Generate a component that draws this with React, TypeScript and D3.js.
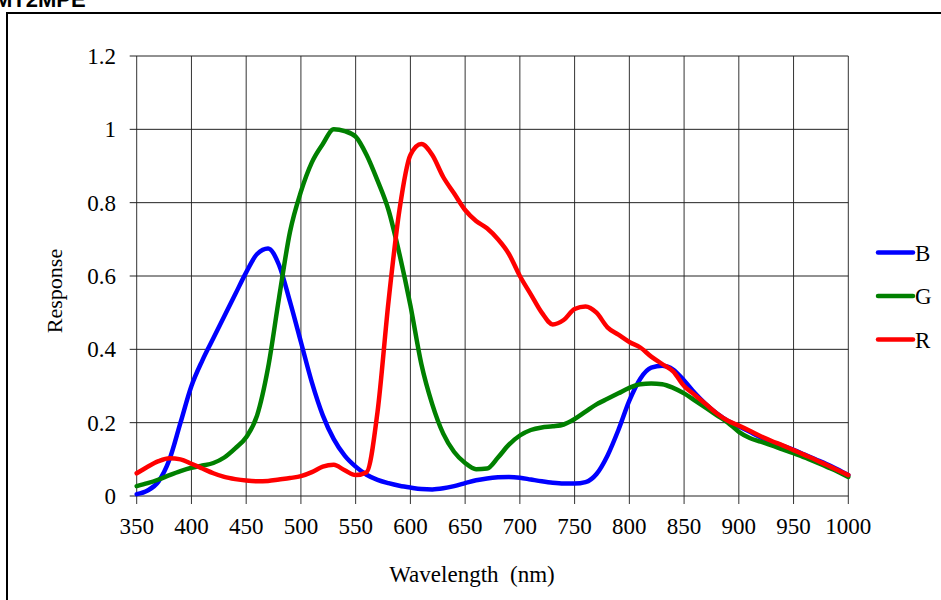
import React from "react";
import * as d3 from "d3";

const wavelengths = [350,360,370,380,390,400,410,420,430,440,450,460,470,480,490,500,510,520,530,540,550,560,570,580,590,600,610,620,630,640,650,660,670,680,690,700,710,720,730,740,750,760,770,780,790,800,810,820,830,840,850,860,870,880,890,900,910,920,930,940,950,960,970,980,990,1000];

const blueValues = [0.005,0.015,0.04,0.10,0.20,0.30,0.37,0.43,0.49,0.55,0.61,0.66,0.675,0.63,0.53,0.42,0.31,0.22,0.155,0.11,0.08,0.058,0.044,0.035,0.028,0.023,0.019,0.018,0.021,0.027,0.035,0.043,0.048,0.051,0.052,0.05,0.045,0.04,0.036,0.034,0.034,0.038,0.06,0.11,0.18,0.26,0.32,0.35,0.355,0.345,0.315,0.28,0.25,0.225,0.205,0.19,0.175,0.16,0.148,0.137,0.126,0.113,0.1,0.087,0.073,0.057];

const greenValues = [0.027,0.035,0.045,0.057,0.068,0.077,0.083,0.09,0.105,0.13,0.16,0.22,0.35,0.54,0.72,0.83,0.91,0.96,1.0,0.995,0.98,0.93,0.86,0.78,0.66,0.52,0.36,0.25,0.17,0.12,0.09,0.073,0.075,0.105,0.14,0.165,0.18,0.187,0.19,0.195,0.21,0.23,0.25,0.265,0.28,0.295,0.305,0.307,0.305,0.295,0.28,0.26,0.24,0.22,0.2,0.175,0.158,0.148,0.138,0.127,0.117,0.105,0.093,0.08,0.067,0.052];

const redValues = [0.062,0.08,0.095,0.103,0.1,0.088,0.075,0.062,0.052,0.046,0.042,0.04,0.041,0.045,0.049,0.054,0.065,0.08,0.085,0.07,0.057,0.065,0.23,0.53,0.78,0.93,0.96,0.93,0.87,0.825,0.78,0.75,0.73,0.7,0.66,0.6,0.55,0.5,0.468,0.48,0.51,0.517,0.5,0.46,0.44,0.42,0.405,0.38,0.36,0.34,0.3,0.275,0.25,0.225,0.205,0.192,0.178,0.163,0.15,0.138,0.125,0.112,0.099,0.085,0.071,0.057];

const xTicks = [350,400,450,500,550,600,650,700,750,800,850,900,950,1000];
const yTicks = [0,0.2,0.4,0.6,0.8,1,1.2];

const seriesNames = ["B","G","R"];
const seriesColors = ["#0000ff","#008000","#ff0000"];
const seriesData = [blueValues, greenValues, redValues];

export default function App() {
  const x = d3.scaleLinear().domain([350, 1000]).range([136.7, 848.3]);
  const y = d3.scaleLinear().domain([0, 1.2]).range([496, 56]);
  const line = d3
    .line<[number, number]>()
    .x((d) => x(d[0]))
    .y((d) => y(d[1]))
    .curve(d3.curveMonotoneX);

  const font = "'Liberation Serif', 'Times New Roman', serif";

  return (
    <svg
      width={941}
      height={600}
      style={{ position: "fixed", left: 0, top: 0, background: "#fff" }}
      fontFamily={font}
    >
      <rect x={0} y={0} width={941} height={600} fill="#fff" />
      <text x={-6} y={7} fontFamily="'Liberation Sans', Arial, sans-serif" fontWeight="bold" fontSize={22} fill="#000">
        MT2MPE
      </text>
      <rect x={7} y={13} width={940} height={600} fill="none" stroke="#000" strokeWidth={2} />

      {/* grid */}
      {xTicks.map((t) => (
        <line key={"gx" + t} x1={x(t)} x2={x(t)} y1={y(1.2)} y2={y(0) + 8} stroke="#333" strokeWidth={1} />
      ))}
      {yTicks.map((t) => (
        <line key={"gy" + t} x1={x(350) - 7} x2={x(1000)} y1={y(t)} y2={y(t)} stroke="#222" strokeWidth={1} />
      ))}

      {/* tick labels */}
      {xTicks.map((t) => (
        <text key={"xl" + t} x={x(t)} y={534} textAnchor="middle" fontSize={23} fill="#000">
          {t}
        </text>
      ))}
      {yTicks.map((t) => (
        <text key={"yl" + t} x={116} y={y(t)} dy="0.35em" textAnchor="end" fontSize={23} fill="#000">
          {t}
        </text>
      ))}

      <text x={472} y={582} textAnchor="middle" fontSize={23} fill="#000" style={{ whiteSpace: "pre" }}>
        {"Wavelength  (nm)"}
      </text>
      <text transform="translate(62,291) rotate(-90)" textAnchor="middle" fontSize={22} fill="#000">
        Response
      </text>

      {/* series */}
      {seriesData.map((vals, i) => (
        <path
          key={seriesNames[i]}
          d={line(wavelengths.map((w, j) => [w, vals[j]] as [number, number])) || ""}
          fill="none"
          stroke={seriesColors[i]}
          strokeWidth={4.5}
          strokeLinejoin="round"
          strokeLinecap="round"
        />
      ))}

      {/* legend */}
      {seriesNames.map((n, i) => {
        const ly = 252.5 + i * 43.5;
        return (
          <g key={"lg" + n}>
            <line x1={878} x2={913} y1={ly} y2={ly} stroke={seriesColors[i]} strokeWidth={4.5} strokeLinecap="round" />
            <text x={915} y={ly} dy="0.35em" fontSize={23} fill="#000">
              {n}
            </text>
          </g>
        );
      })}
    </svg>
  );
}
